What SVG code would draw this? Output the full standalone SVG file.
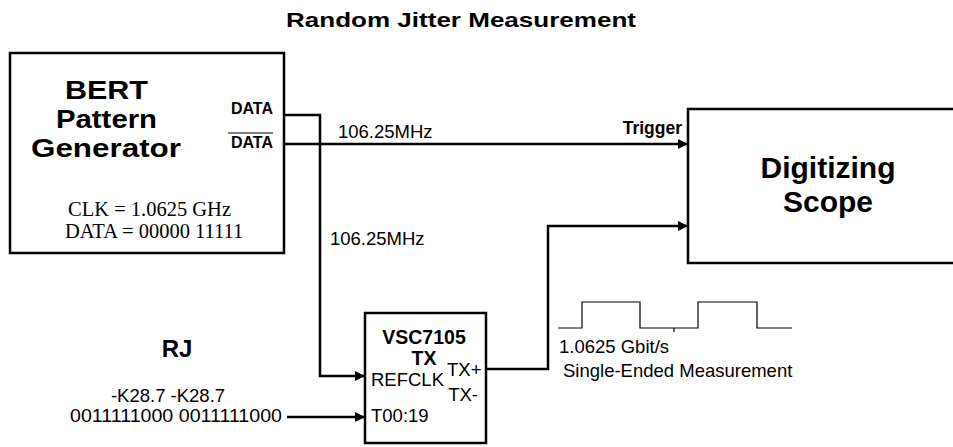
<svg xmlns="http://www.w3.org/2000/svg" width="953" height="447" viewBox="0 0 953 447">
<style>
.box{fill:#fff;stroke:#000;stroke-width:2.5}
.w{fill:none;stroke:#000;stroke-width:2.5}
.wave{fill:none;stroke:#000;stroke-width:1.2}
.s{font-family:"Liberation Sans",Arial,sans-serif;font-size:18.5px;fill:#000}
.b{font-family:"Liberation Sans",Arial,sans-serif;font-weight:bold;fill:#000}
.t{font-family:"Liberation Serif","Times New Roman",serif;font-size:20.5px;fill:#000}
</style>
<defs>
<marker id="ah" markerWidth="10" markerHeight="10" refX="10" refY="5" orient="auto" markerUnits="userSpaceOnUse" viewBox="0 0 10 10">
<path d="M0,0 L10,5 L0,10 z" fill="#000"/>
</marker>
</defs>
<rect width="953" height="447" fill="#fff"/>
<text class="b" x="286" y="27" font-size="21" textLength="350" lengthAdjust="spacingAndGlyphs">Random Jitter Measurement</text>

<g id="bert">
<rect class="box" x="10" y="53" width="274" height="200"/>
<text class="b" font-size="25" x="65" y="99" textLength="83" lengthAdjust="spacingAndGlyphs">BERT</text>
<text class="b" font-size="25" x="56" y="128" textLength="101" lengthAdjust="spacingAndGlyphs">Pattern</text>
<text class="b" font-size="25" x="31" y="157" textLength="150" lengthAdjust="spacingAndGlyphs">Generator</text>
<text class="t" x="68" y="216">CLK = 1.0625 GHz</text>
<text class="t" x="65" y="238">DATA = 00000 11111</text>
<text class="b" font-size="16" x="273" y="114" text-anchor="end">DATA</text>
<text class="b" font-size="16" x="273" y="148" text-anchor="end">DATA</text>
<line x1="228" y1="133" x2="273" y2="133" stroke="#000" stroke-width="1.2"/>
</g>

<g id="scope">
<rect class="box" x="688" y="109" width="280" height="154"/>
<text class="b" font-size="30" text-anchor="middle"><tspan x="828" y="178">Digitizing</tspan><tspan x="828" y="212">Scope</tspan></text>
<text class="b" font-size="17.5" x="682" y="134" text-anchor="end">Trigger</text>
</g>

<g id="vsc">
<rect class="box" x="365" y="313" width="121" height="130"/>
<text class="b" font-size="19.5" text-anchor="middle"><tspan x="424" y="344">VSC7105</tspan><tspan x="424" y="365">TX</tspan></text>
<text class="s" x="371" y="386">REFCLK</text>
<text class="s" x="447" y="376">TX+</text>
<text class="s" x="478" y="401" text-anchor="end">TX-</text>
<text class="s" x="371" y="422">T00:19</text>
</g>

<g id="rj">
<text class="b" font-size="24" x="177" y="357" text-anchor="middle">RJ</text>
<text class="s" x="168" y="402" text-anchor="middle">-K28.7 -K28.7</text>
<text class="s" x="70" y="422" textLength="212" lengthAdjust="spacingAndGlyphs">0011111000 0011111000</text>
</g>

<g id="waveform">
<path class="wave" d="M558,328 H582 V302 H640 V328 H698 V302 H757 V328 H792"/>
<line class="wave" x1="674" y1="328" x2="674" y2="332"/>
<text class="s" x="559" y="353">1.0625 Gbit/s</text>
<text class="s" x="563" y="377">Single-Ended Measurement</text>
</g>

<g id="connectors">
<path class="w" d="M284,115 H320 V376 H365" marker-end="url(#ah)"/>
<path class="w" d="M284,144 H688" marker-end="url(#ah)"/>
<path class="w" d="M486,369 H548 V226 H688" marker-end="url(#ah)"/>
<path class="w" d="M287,417 H365" marker-end="url(#ah)"/>
<text class="s" x="338" y="138">106.25MHz</text>
<text class="s" x="330" y="245">106.25MHz</text>
</g>
</svg>
